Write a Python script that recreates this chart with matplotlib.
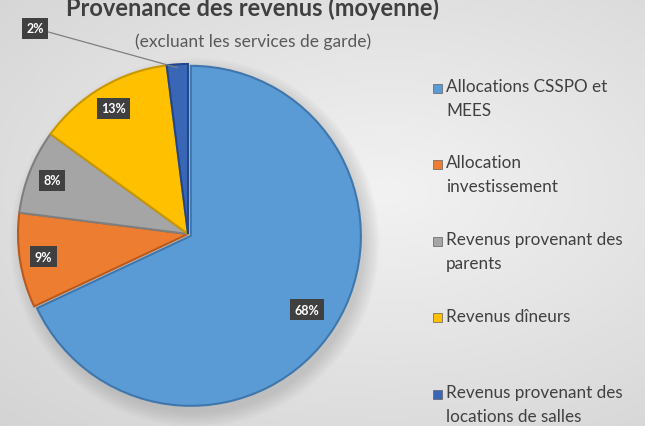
import matplotlib
matplotlib.use('Agg')
import numpy as np
import matplotlib.pyplot as plt
from matplotlib.patches import Rectangle

categories = ['Allocations CSSPO et\nMEES', 'Allocation\ninvestissement',
              'Revenus provenant des\nparents', 'Revenus dîneurs',
              'Revenus provenant des\nlocations de salles']
values = [68, 9, 8, 13, 2]
colors = ['#5b9bd5', '#ed7d31', '#a5a5a5', '#ffc000', '#3a67b5']
edges = ['#3f77ad', '#b95a1c', '#7f7f7f', '#c99700', '#22468a']

W, H = 645, 427
fig = plt.figure(figsize=(W / 100, H / 100), dpi=100)
plt.rcParams['font.family'] = ['Lato', 'DejaVu Sans']

# background gradient
bg = fig.add_axes([0, 0, 1, 1])
yy, xx = np.mgrid[0:1:200j, 0:1:300j]
d = np.sqrt(((xx - 0.6) / 1.0) ** 2 + ((yy - 0.55) / 0.9) ** 2)
g = 0.95 - 0.14 * d
bg.imshow(np.dstack([g, g, g]), extent=[0, 1, 0, 1], aspect='auto', origin='lower')
bg.axis('off')

# pie: center (188,235) px, radius 170 px
cx, cy, r = 188, 235, 170
ax = fig.add_axes([(cx - r) / W, (H - cy - r) / H, 2 * r / W, 2 * r / H])

# soft shadow
for k in range(8):
    sh = plt.Circle((0.04, -0.05), 1.0 + 0.012 * k, color='#707070', alpha=0.035,
                    lw=0, clip_on=False)
    ax.add_patch(sh)

wedges, _ = ax.pie(values, colors=colors, startangle=90, counterclock=False,
                   radius=1.0, explode=[0.02, 0, 0, 0, 0],
                   wedgeprops=dict(linewidth=1.5))
for w, ec in zip(wedges, edges):
    w.set_edgecolor(ec)
    w.set_clip_on(False)
ax.set_xlim(-1, 1)
ax.set_ylim(-1, 1)
ax.axis('off')

box = dict(boxstyle='square,pad=0.35', fc='#404040', ec='none')
for i, (w, v) in enumerate(zip(wedges, values)):
    ang = np.deg2rad((w.theta1 + w.theta2) / 2)
    if v < 5:
        ax.annotate('%d%%' % v, xy=(0.98 * np.cos(ang), 0.98 * np.sin(ang)),
                    xytext=(-0.9, 1.21), color='white', fontsize=9, fontweight='bold',
                    ha='center', va='center', bbox=box, annotation_clip=False,
                    arrowprops=dict(arrowstyle='-', color='#7f7f7f', lw=0.9,
                                    shrinkA=0, shrinkB=0))
    else:
        rr = 0.83 if i == 0 else 0.86
        ax.text(rr * np.cos(ang), rr * np.sin(ang), '%d%%' % v, color='white',
                fontsize=9, fontweight='bold', ha='center', va='center', bbox=box)

# titles
fig.text(253 / W, (H - 16) / H, 'Provenance des revenus (moyenne)', ha='center',
         va='baseline', fontsize=17, fontweight='bold', color='#404040')
fig.text(253 / W, (H - 47) / H, '(excluant les services de garde)', ha='center',
         va='baseline', fontsize=12.5, color='#595959')

# legend
for i, (lab, c) in enumerate(zip(categories, colors)):
    ymid = 89 + 76.5 * i
    fig.patches.append(Rectangle((433 / W, (H - ymid - 4.5) / H), 9 / W, 9 / H,
                                 transform=fig.transFigure, fc=c, ec='#606060', lw=0.5))
    fig.text(446 / W, (H - ymid + 10) / H, lab, ha='left', va='top', fontsize=12.3,
             color='#404040', linespacing=1.6)

fig.savefig('out.png', dpi=100)
